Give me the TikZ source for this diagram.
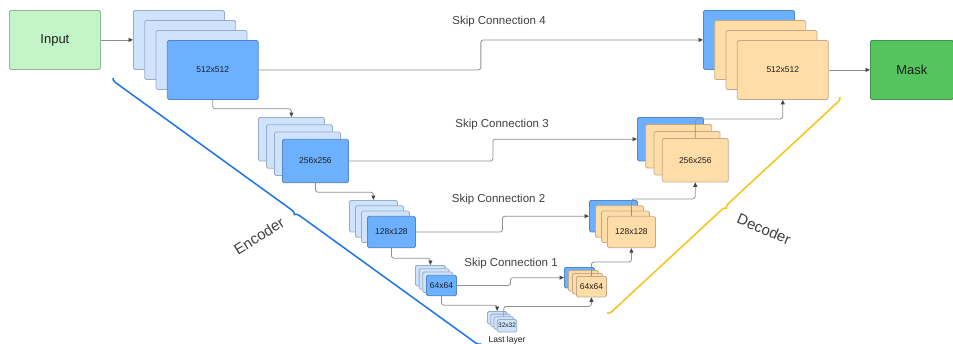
\documentclass[tikz,border=0pt]{standalone}
\usepackage{fontspec}
\setmainfont{Liberation Sans}
\usetikzlibrary{arrows.meta,calc,decorations.pathreplacing}

\definecolor{encLight}{HTML}{CFE3FD}
\definecolor{encLightEdge}{HTML}{97ACC8}
\definecolor{encDark}{HTML}{6CB0FF}
\definecolor{encDarkEdge}{HTML}{5288C8}
\definecolor{decOrange}{HTML}{FFDDA8}
\definecolor{decOrangeEdge}{HTML}{C4AA84}
\definecolor{inFill}{HTML}{C3F5C9}
\definecolor{inEdge}{HTML}{8FB894}
\definecolor{maskFill}{HTML}{55C45F}
\definecolor{maskEdge}{HTML}{3F9647}
\definecolor{linkGray}{HTML}{909090}
\definecolor{tipGray}{HTML}{474747}
\definecolor{txt}{HTML}{1E1E1E}
\definecolor{encLine}{HTML}{1C74E6}
\definecolor{decLine}{HTML}{F5C417}

\tikzset{
  box/.style={anchor=north west, inner sep=0pt, rounded corners=1.5pt,
    line width=0.8pt, text=txt},
  encback/.style={box, fill=encLight, draw=encLightEdge},
  encfront/.style={box, fill=encDark, draw=encDarkEdge},
  decback/.style={box, fill=decOrange, draw=decOrangeEdge},
  s1/.style={minimum width=91pt, minimum height=59pt, font=\fontsize{8.5}{10}\selectfont},
  s2/.style={minimum width=66pt, minimum height=43.5pt, font=\fontsize{8.5}{10}\selectfont},
  s3/.style={minimum width=48pt, minimum height=31.5pt, font=\fontsize{8.5}{10}\selectfont},
  s4/.style={minimum width=30pt, minimum height=20.5pt, font=\fontsize{8.5}{10}\selectfont},
  s5/.style={minimum width=19.5pt, minimum height=12.5pt, font=\fontsize{6.5}{8}\selectfont},
  endbox/.style={box, minimum width=#1, minimum height=59pt, font=\fontsize{13}{15}\selectfont},
  link/.style={draw=linkGray, line width=0.8pt, rounded corners=2.5pt,
    -{Triangle[length=4.5pt,width=4pt,color=tipGray]}},
  skiplbl/.style={font=\fontsize{11.5}{13}\selectfont, text=black!75},
  brace/.style={decorate, line width=1.5pt,
    decoration={brace, amplitude=4.5pt, #1}},
  partlbl/.style={font=\fontsize{15}{17}\selectfont, text=black!75},
}

% one stack of four feature maps: name, x, y, dx, dy, size,
% style of the rear map, style of the two middle maps, style and contents of the front map
\newcommand\layerstack[9]{%
  \node[#6,#7] (#1-0) at (#2,#3) {};
  \node[#6,#8] (#1-1) at ({#2+#4},{#3+#5}) {};
  \node[#6,#8] (#1-2) at ({#2+2*#4},{#3+2*#5}) {};
  \node[#6,name=#1,at={({#2+3*#4},{#3+3*#5})},#9];
}

\begin{document}
\begin{tikzpicture}[x=1pt,y=-1pt]
\useasboundingbox (0,0) rectangle (953,343);

% input and output
\node[endbox=91pt, fill=inFill, draw=inEdge] (in) at (9,10) {Input};
\node[endbox=83pt, fill=maskFill, draw=maskEdge] (mask) at (870,40) {Mask};

% encoder
\layerstack{E1}{133}{10}{11.3}{10}{s1}{encback}{encback}{encfront,node contents=512x512}
\layerstack{E2}{258}{117}{8}{7.3}{s2}{encback}{encback}{encfront,node contents=256x256}
\layerstack{E3}{349}{200}{6}{5.3}{s3}{encback}{encback}{encfront,node contents=128x128}
\layerstack{E4}{415}{265}{3.7}{3.3}{s4}{encback}{encback}{encfront,node contents=64x64}
\layerstack{E5}{487}{311}{3.3}{2.7}{s5}{encback}{encback}{encback,node contents=32x32}
\node[font=\fontsize{8.5}{10}\selectfont, text=txt] (last) at (507,340.5) {Last layer};

% decoder
\layerstack{D1}{703}{10}{11.3}{10}{s1}{encfront}{decback}{decback,node contents=512x512}
\layerstack{D2}{637}{117}{8.3}{7}{s2}{encfront}{decback}{decback,node contents=256x256}
\layerstack{D3}{589}{200}{6}{5.3}{s3}{encfront}{decback}{decback,node contents=128x128}
\layerstack{D4}{564}{267}{4}{3}{s4}{encfront}{decback}{decback,node contents=64x64}

% contracting path
\draw[link] (in.east) -- (E1-0.west);
\draw[link] (E1.south) -- ++(0,9) -| (E2-0.north);
\draw[link] (E2.south) -- ++(0,9) -| (E3-0.north);
\draw[link] (E3.south) -- ++(0,10) -| (E4-0.north);
\draw[link] (E4.south) -- ++(0,9) -| (E5-0.north);

% expanding path
\draw[link] (E5-2.north) -- ++(0,-10) -| (D4.south);
\draw[link] (D4.north) -- ++(0,-14) -| (D3.south);
\draw[link] (D3.north) -- ++(0,-17) -| (D2.south);
\draw[link] (D2.north) -- ++(0,-19) -| (D1.south);
\draw[link] (D1.east) -- (mask.west);

% skip connections
\draw[link] (E1.east) -| ($(E1.east)!.5!(D1-0.west)$) |- (D1-0.west);
\draw[link] (E2.east) -| ($(E2.east)!.5!(D2-0.west)$) |- (D2-0.west);
\draw[link] (E3.east) -| ($(E3.east)!.5!(D3-0.west)$) |- (D3-0.west);
\draw[link] (E4.east) -| ($(E4.east)!.5!(D4-0.west)$) |- (D4-0.west);
\node[skiplbl] (sk4) at (499,22) {Skip Connection 4};
\node[skiplbl] (sk3) at (502,125) {Skip Connection 3};
\node[skiplbl] (sk2) at (498.5,200) {Skip Connection 2};
\node[skiplbl] (sk1) at (511,264) {Skip Connection 1};

% encoder and decoder braces
\coordinate (encA) at (113,78);
\coordinate (encB) at (481,344);
\coordinate (decA) at (840,97);
\coordinate (decB) at (607,313);
\draw[brace=mirror, draw=encLine] (encA) -- (encB);
\draw[brace=, draw=decLine] (decA) -- (decB);
\node[partlbl, rotate=32] (enc) at (259,236) {Encoder};
\node[partlbl, rotate=-23] (dec) at (764,229) {Decoder};
\end{tikzpicture}
\end{document}
